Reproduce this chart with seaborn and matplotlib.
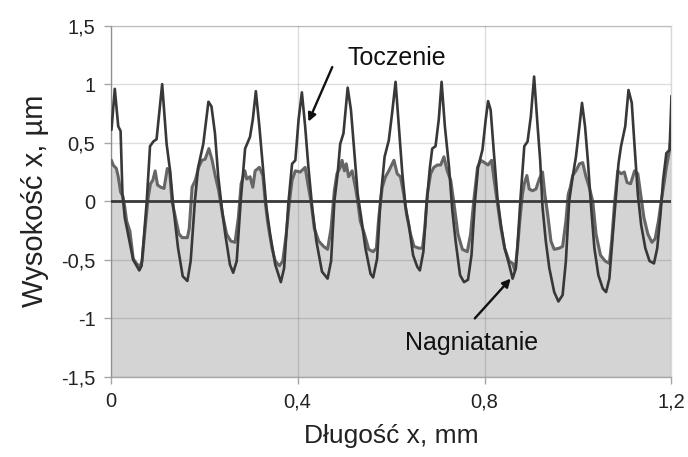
import matplotlib
matplotlib.use("Agg")
import matplotlib.pyplot as plt
import seaborn as sns
import numpy as np
import pandas as pd

# ---------------- data ----------------
toczenie_x = [0.0015, 0.0086, 0.016, 0.021, 0.025, 0.030, 0.037, 0.048, 0.061, 0.066,
              0.077, 0.084, 0.091, 0.098, 0.110, 0.1195, 0.127, 0.134, 0.144, 0.154,
              0.164, 0.171, 0.180, 0.187, 0.198, 0.209, 0.2155, 0.223, 0.230, 0.2375,
              0.245, 0.255, 0.262, 0.2695, 0.278, 0.2875, 0.298, 0.304, 0.3105, 0.318,
              0.3255, 0.333, 0.341, 0.352, 0.364, 0.371, 0.380, 0.388, 0.395, 0.402,
              0.409, 0.416, 0.423, 0.431, 0.440, 0.452, 0.464, 0.4715, 0.4785, 0.4855,
              0.491, 0.498, 0.507, 0.514, 0.5215, 0.5285, 0.536, 0.545, 0.556, 0.5615,
              0.570, 0.577, 0.586, 0.595, 0.602, 0.6095, 0.6165, 0.624, 0.631, 0.638,
              0.647, 0.656, 0.6615, 0.669, 0.676, 0.683, 0.688, 0.695, 0.702, 0.708,
              0.715, 0.724, 0.731, 0.738, 0.7475, 0.756, 0.7645, 0.772, 0.779, 0.786,
              0.7955, 0.8025, 0.8075, 0.813, 0.820, 0.8275, 0.835, 0.843, 0.8525, 0.860,
              0.867, 0.872, 0.8775, 0.885, 0.892, 0.899, 0.906, 0.9135, 0.919, 0.924,
              0.931, 0.9385, 0.949, 0.958, 0.967, 0.974, 0.981, 0.9885, 0.9955, 1.003,
              1.0085, 1.015, 1.021, 1.028, 1.035, 1.0435, 1.053, 1.060, 1.067, 1.0745,
              1.0815, 1.0865, 1.092, 1.101, 1.108, 1.115, 1.121, 1.128, 1.135, 1.144,
              1.153, 1.1625, 1.1695, 1.1765, 1.182, 1.189, 1.196, 1.200]
toczenie_y = [0.61, 0.96, 0.64, 0.60, 0.065, -0.14, -0.28, -0.50, -0.59, -0.55,
              0.00, 0.47, 0.51, 0.53, 1.00, 0.49, 0.26, -0.05, -0.40, -0.64,
              -0.68, -0.51, 0.00, 0.29, 0.49, 0.85, 0.81, 0.58, 0.21, -0.05,
              -0.28, -0.54, -0.61, -0.51, 0.00, 0.45, 0.55, 0.70, 0.94, 0.64,
              0.29, -0.05, -0.28, -0.54, -0.69, -0.57, -0.02, 0.32, 0.35, 0.70,
              0.93, 0.64, 0.29, -0.05, -0.34, -0.60, -0.66, -0.51, 0.00, 0.235,
              0.49, 0.58, 0.97, 0.78, 0.41, 0.06, -0.14, -0.40, -0.62, -0.65,
              -0.49, 0.00, 0.38, 0.52, 0.75, 1.02, 0.64, 0.235, -0.05, -0.20,
              -0.46, -0.56, -0.59, -0.43, -0.02, 0.29, 0.45, 0.47, 0.70, 1.02,
              0.64, 0.29, -0.08, -0.34, -0.63, -0.69, -0.67, -0.46, -0.02, 0.29,
              0.44, 0.70, 0.855, 0.78, 0.41, 0.03, -0.20, -0.40, -0.54, -0.66,
              -0.57, -0.28, 0.06, 0.47, 0.51, 0.725, 1.065, 0.64, 0.35, -0.05,
              -0.34, -0.57, -0.775, -0.855, -0.80, -0.51, 0.00, 0.21, 0.38, 0.64,
              0.84, 0.64, 0.35, -0.05, -0.40, -0.63, -0.745, -0.775, -0.66, -0.28,
              0.06, 0.32, 0.47, 0.64, 0.95, 0.84, 0.47, 0.06, -0.20, -0.40,
              -0.51, -0.53, -0.40, -0.11, 0.18, 0.41, 0.44, 0.90]

nagn_x = [0.0015, 0.005, 0.012, 0.016, 0.021, 0.026, 0.030, 0.034, 0.041, 0.048,
          0.055, 0.062, 0.067, 0.075, 0.080, 0.085, 0.090, 0.095, 0.100, 0.107,
          0.114, 0.121, 0.126, 0.131, 0.137, 0.146, 0.153, 0.164, 0.168, 0.174,
          0.181, 0.188, 0.195, 0.202, 0.210, 0.217, 0.2235, 0.231, 0.239, 0.248,
          0.257, 0.266, 0.273, 0.279, 0.287, 0.291, 0.298, 0.304, 0.309, 0.318,
          0.3255, 0.3305, 0.3355, 0.345, 0.352, 0.361, 0.368, 0.3755, 0.3825, 0.388,
          0.395, 0.4055, 0.416, 0.423, 0.4285, 0.4355, 0.445, 0.4555, 0.464, 0.4715,
          0.4785, 0.484, 0.491, 0.495, 0.500, 0.504, 0.509, 0.5165, 0.5235, 0.5285,
          0.534, 0.543, 0.552, 0.5615, 0.5685, 0.5735, 0.581, 0.588, 0.595, 0.606,
          0.613, 0.620, 0.627, 0.633, 0.6415, 0.649, 0.6595, 0.667, 0.672, 0.6775,
          0.6845, 0.6915, 0.699, 0.706, 0.713, 0.720, 0.7275, 0.7345, 0.743, 0.7525,
          0.763, 0.770, 0.7775, 0.785, 0.792, 0.800, 0.8075, 0.815, 0.8205, 0.8275,
          0.835, 0.843, 0.8525, 0.860, 0.865, 0.8705, 0.876, 0.881, 0.885, 0.8905,
          0.8955, 0.9025, 0.910, 0.917, 0.924, 0.929, 0.935, 0.942, 0.949, 0.960,
          0.967, 0.974, 0.979, 0.9835, 0.9885, 0.9955, 1.003, 1.010, 1.017, 1.024,
          1.0315, 1.0385, 1.048, 1.058, 1.067, 1.072, 1.078, 1.085, 1.092, 1.099,
          1.105, 1.1125, 1.121, 1.128, 1.134, 1.141, 1.1495, 1.158, 1.165, 1.172,
          1.178, 1.184, 1.189, 1.196, 1.200]
nagn_y = [0.35, 0.31, 0.28, 0.21, 0.08, 0.04, -0.05, -0.17, -0.255, -0.49,
          -0.53, -0.56, -0.51, -0.17, 0.03, 0.15, 0.18, 0.26, 0.14, 0.12,
          0.11, 0.28, 0.26, 0.00, -0.11, -0.28, -0.31, -0.31, -0.23, 0.12,
          0.18, 0.29, 0.35, 0.36, 0.45, 0.35, 0.22, 0.09, -0.11, -0.28,
          -0.34, -0.35, -0.14, 0.15, 0.26, 0.19, 0.21, 0.12, 0.26, 0.29,
          0.22, 0.00, -0.17, -0.40, -0.51, -0.55, -0.51, -0.28, 0.00, 0.18,
          0.26, 0.25, 0.29, 0.12, 0.00, -0.23, -0.34, -0.385, -0.41, -0.23,
          0.09, 0.235, 0.29, 0.35, 0.26, 0.32, 0.21, 0.26, 0.12, 0.00,
          -0.17, -0.28, -0.41, -0.43, -0.40, -0.14, 0.12, 0.21, 0.26, 0.35,
          0.235, 0.21, 0.06, -0.11, -0.28, -0.385, -0.40, -0.40, -0.23, 0.06,
          0.235, 0.29, 0.31, 0.31, 0.38, 0.26, 0.18, -0.02, -0.28, -0.41,
          -0.43, -0.28, 0.03, 0.29, 0.35, 0.33, 0.31, 0.35, 0.18, -0.02,
          -0.23, -0.40, -0.51, -0.53, -0.59, -0.40, -0.14, 0.06, 0.15, 0.22,
          0.105, 0.09, 0.105, 0.19, 0.25, 0.06, -0.11, -0.34, -0.41, -0.40,
          -0.385, -0.17, 0.06, 0.12, 0.22, 0.26, 0.32, 0.33, 0.21, 0.12,
          0.00, -0.28, -0.46, -0.51, -0.53, -0.34, -0.02, 0.26, 0.235, 0.25,
          0.16, 0.15, 0.26, 0.235, 0.06, -0.14, -0.28, -0.35, -0.32, -0.17,
          0.00, 0.15, 0.29, 0.44, 0.62]

x_ticks = [0, 0.4, 0.8, 1.2]
x_tick_labels = ["0", "0,4", "0,8", "1,2"]
y_ticks = [-1.5, -1.0, -0.5, 0, 0.5, 1.0, 1.5]
y_tick_labels = ["-1,5", "-1", "-0,5", "0", "0,5", "1", "1,5"]

x_label = "Długość x, mm"
y_label = "Wysokość x, µm"
label_toczenie = "Toczenie"
label_nagn = "Nagniatanie"

# ---------------- plot ----------------
sns.set_theme(style="white")
plt.rcParams["font.family"] = ["Liberation Sans", "DejaVu Sans"]

fig = plt.figure(figsize=(6.88, 4.57), dpi=100)
ax = fig.add_axes([0.161, 0.175, 0.815, 0.769])

df_t = pd.DataFrame({"x": toczenie_x, "y": toczenie_y})
df_n = pd.DataFrame({"x": nagn_x, "y": nagn_y})

ax.fill_between(df_n["x"], -1.5, df_n["y"], color="#d4d4d4", lw=0, zorder=1)

ax.set_xlim(0, 1.2)
ax.set_ylim(-1.5, 1.5)
ax.set_xticks(x_ticks)
ax.set_xticklabels(x_tick_labels)
ax.set_yticks(y_ticks)
ax.set_yticklabels(y_tick_labels)

ax.grid(True, color="black", alpha=0.13, lw=1.0, zorder=2)
ax.set_axisbelow(False)

sns.lineplot(data=df_n, x="x", y="y", ax=ax, color="#666666", lw=2.2,
             estimator=None, sort=False, zorder=3)
sns.lineplot(data=df_t, x="x", y="y", ax=ax, color="#383838", lw=1.9,
             estimator=None, sort=False, zorder=4)
ax.axhline(0, color="#3a3a3a", lw=2.0, zorder=5)

for side in ["top", "right"]:
    ax.spines[side].set_color("#d9d9d9")
    ax.spines[side].set_linewidth(1.0)
for side in ["left", "bottom"]:
    ax.spines[side].set_color("#a6a6a6")
    ax.spines[side].set_linewidth(1.0)
ax.tick_params(axis="both", which="both", direction="out", length=5, width=1,
               color="#a6a6a6", labelsize=14.5, labelcolor="#222222", pad=6,
               left=True, bottom=True)

ax.set_xlabel(x_label, fontsize=19, color="#222222", labelpad=9)
ax.set_ylabel(y_label, fontsize=21, color="#222222", labelpad=9)

# annotation texts
ax.text(0.612, 1.224, label_toczenie, fontsize=18, color="#111111",
        ha="center", va="center", zorder=6)
ax.text(0.773, -1.21, label_nagn, fontsize=18, color="#111111",
        ha="center", va="center", zorder=6)
# arrows
ax.annotate("", xy=(0.423, 0.68), xytext=(0.474, 1.146),
            arrowprops=dict(arrowstyle="-|>", color="#111111", lw=1.7,
                            shrinkA=0, shrinkB=0, mutation_scale=12),
            zorder=6)
ax.annotate("", xy=(0.856, -0.66), xytext=(0.779, -1.0),
            arrowprops=dict(arrowstyle="-|>", color="#111111", lw=1.7,
                            shrinkA=0, shrinkB=0, mutation_scale=12),
            zorder=6)

fig.savefig("out.png", dpi=100)
